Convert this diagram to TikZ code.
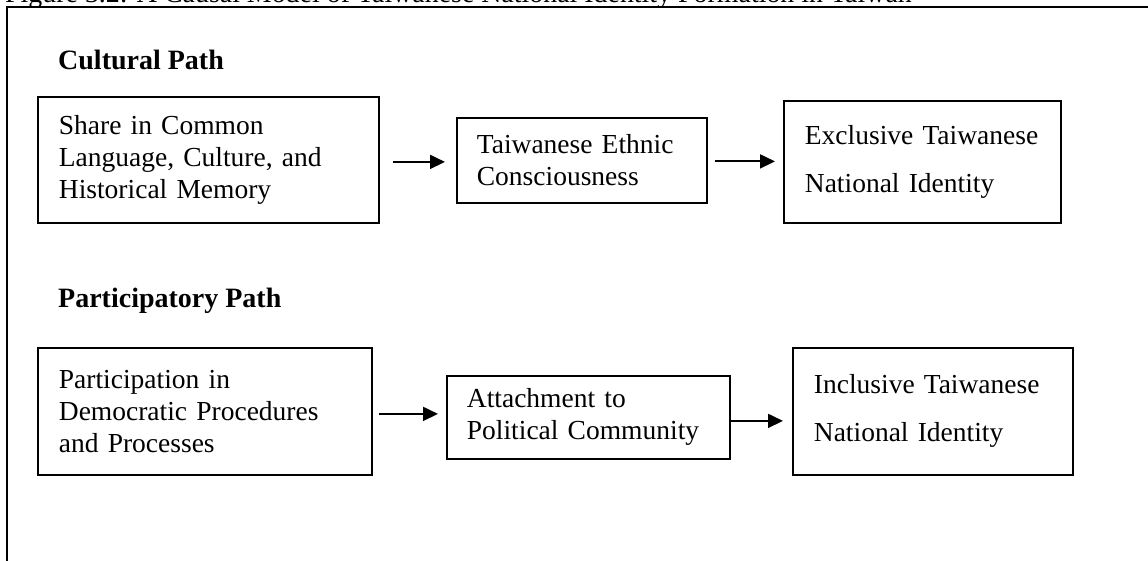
\documentclass[tikz,border=0pt]{standalone}
\usepackage{fontspec}
\setmainfont{Liberation Serif}
\usetikzlibrary{arrows.meta}
\tikzset{
  boxnode/.style={draw, line width=1.8pt, anchor=north west, align=left, inner ysep=0pt,
    font=\fontsize{27.5}{32}\selectfont},
  widebox/.style={boxnode, font=\fontsize{27.5}{48}\selectfont},
  heading/.style={anchor=base west, inner sep=0pt, font=\fontsize{28}{32}\selectfont\bfseries},
  arr/.style={line width=1.8pt, -{Triangle[length=15pt,width=14pt]}},
  frame/.style={line width=2.4pt}
}
\begin{document}
\begin{tikzpicture}[x=1pt,y=-1pt]
\useasboundingbox (0,0) rectangle (1148,561);
% caption (cut off at top)
\node[anchor=base west, inner sep=0pt, font=\fontsize{27.9}{32}\selectfont] (cap) at (5,3)
  {Figure 3.2: A Causal Model of Taiwanese National Identity Formation in Taiwan};
% outer frame
\coordinate (fr) at (1160,7);
\coordinate (fc) at (7,7);
\coordinate (fb) at (7,575);
\draw[frame] (fr) -- (fc) -- (fb);
% headings
\node[heading] (h1) at (58,70) {Cultural Path};
\node[heading] (h2) at (58,307) {Participatory Path};
% cultural path
\node[boxnode, text width=299pt, inner xsep=21pt, minimum height=126pt] (a) at (37,96)
  {Share in Common\\Language, Culture, and\\Historical Memory};
\node[boxnode, text width=210pt, inner xsep=20pt, minimum height=85pt] (b) at (456,117)
  {Taiwanese Ethnic\\Consciousness};
\node[widebox, text width=235pt, inner xsep=21pt, minimum height=122pt] (c) at (783,100)
  {\mbox{Exclusive Taiwanese}\\\mbox{National Identity}};
% participatory path
\node[boxnode, text width=292pt, inner xsep=21pt, minimum height=127pt] (d) at (37,347)
  {Participation in\\Democratic Procedures\\and Processes};
\node[boxnode, text width=243pt, inner xsep=20pt, minimum height=83pt] (e) at (446,375)
  {Attachment to\\Political Community};
\node[widebox, text width=238pt, inner xsep=21pt, minimum height=127pt] (f) at (792,347)
  {\mbox{Inclusive Taiwanese}\\\mbox{National Identity}};
% arrows
\draw[arr] ([xshift=13pt,yshift=-2pt]a.east) -- ([xshift=-11pt,yshift=-2pt]a.east -| b.west);
\draw[arr] ([xshift=7pt,yshift=-1pt]b.east) -- ([xshift=-8pt,yshift=-1pt]b.east -| c.west);
\draw[arr] ([xshift=6pt,yshift=-2.5pt]d.east) -- ([xshift=-8pt,yshift=-2.5pt]d.east -| e.west);
\draw[arr] ([yshift=-3.5pt]e.east) -- ([xshift=-9pt,yshift=-3.5pt]e.east -| f.west);
\end{tikzpicture}
\end{document}
